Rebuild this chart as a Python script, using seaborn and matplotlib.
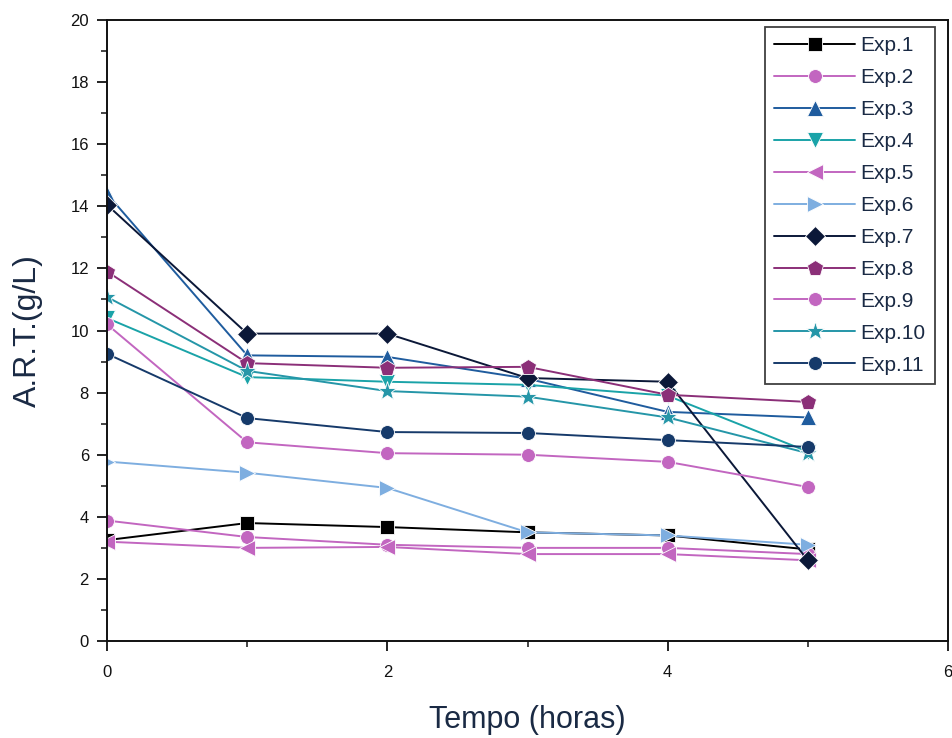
import matplotlib
matplotlib.use("Agg")
import matplotlib.pyplot as plt
from matplotlib.ticker import MultipleLocator
import seaborn as sns
import pandas as pd

# Time points (hours)
tempo = [0, 1, 2, 3, 4, 5]

# Reducing sugars (A.R.T., g/L) per experiment
exp1 = [3.25, 3.80, 3.67, 3.50, 3.40, 2.95]
exp2 = [3.88, 3.35, 3.10, 3.00, 3.00, 2.80]
exp3 = [14.40, 9.20, 9.15, 8.45, 7.38, 7.20]
exp4 = [10.40, 8.50, 8.35, 8.25, 7.90, 6.10]
exp5 = [3.20, 3.00, 3.03, 2.80, 2.80, 2.60]
exp6 = [5.78, 5.42, 4.93, 3.50, 3.40, 3.10]
exp7 = [14.05, 9.90, 9.90, 8.47, 8.35, 2.60]
exp8 = [11.90, 8.95, 8.80, 8.83, 7.93, 7.70]
exp9 = [10.20, 6.40, 6.05, 6.00, 5.77, 4.96]
exp10 = [11.08, 8.70, 8.05, 7.87, 7.20, 6.05]
exp11 = [9.25, 7.18, 6.73, 6.70, 6.47, 6.25]

labels = ["Exp.1", "Exp.2", "Exp.3", "Exp.4", "Exp.5", "Exp.6",
          "Exp.7", "Exp.8", "Exp.9", "Exp.10", "Exp.11"]
series = [exp1, exp2, exp3, exp4, exp5, exp6, exp7, exp8, exp9, exp10, exp11]

colors = ["#000000", "#c266c0", "#1f5c9e", "#1aa3a8", "#c266c0", "#7eaee0",
          "#0b1838", "#8b2f78", "#c266c0", "#2596a8", "#163a6a"]
markers = ["s", "o", "^", "v", "<", ">", "D", "p", "o", "*", "o"]
# per-marker size tweaks so shapes look comparable
marker_sizes = {"s": 10, "o": 10, "^": 11, "v": 11, "<": 11, ">": 11,
                "D": 10, "p": 12, "*": 14}

rows = []
for lab, vals in zip(labels, series):
    for t, v in zip(tempo, vals):
        rows.append({"Tempo": t, "ART": v, "Exp": lab})
df = pd.DataFrame(rows)

sns.set_style("ticks")
plt.rcParams["font.family"] = ["Liberation Sans", "DejaVu Sans"]

fig = plt.figure(figsize=(9.52, 7.38), dpi=100)
ax = fig.add_axes([0.1124, 0.1314, 0.8834, 0.8415])

sns.lineplot(
    data=df, x="Tempo", y="ART", hue="Exp", style="Exp",
    hue_order=labels, style_order=labels,
    palette=dict(zip(labels, colors)),
    markers=dict(zip(labels, markers)),
    dashes=False, markersize=10, linewidth=1.4,
    markeredgewidth=0.6, ax=ax,
)

for ln in ax.lines:
    m = ln.get_marker()
    if m in marker_sizes:
        ln.set_markersize(marker_sizes[m])

ax.set_xlim(0, 6)
ax.set_ylim(0, 20)
ax.xaxis.set_major_locator(MultipleLocator(2))
ax.xaxis.set_minor_locator(MultipleLocator(1))
ax.yaxis.set_major_locator(MultipleLocator(2))
ax.yaxis.set_minor_locator(MultipleLocator(1))
ax.tick_params(which="major", direction="out", length=7, width=1.3,
               labelsize=12, colors="#111111", pad=6)
ax.tick_params(axis="x", which="major", pad=10)
ax.tick_params(which="minor", direction="out", length=4, width=1.2)
for sp in ax.spines.values():
    sp.set_linewidth(1.4)
    sp.set_color("#111111")

ax.set_xlabel("Tempo (horas)", fontsize=22, color="#1a2a44", labelpad=18)
ax.set_ylabel("A.R.T.(g/L)", fontsize=23, color="#1a2a44", labelpad=20)

leg = ax.legend(loc="upper right", bbox_to_anchor=(0.9845, 0.9887),
                borderaxespad=0.0,
                fontsize=15, frameon=True, fancybox=False,
                handlelength=3.9, handletextpad=0.25, labelspacing=0.62,
                borderpad=0.45, markerscale=1.0)
leg.get_frame().set_edgecolor("#111111")
leg.get_frame().set_linewidth(1.3)
for h in leg.legend_handles:
    m = h.get_marker()
    if m in marker_sizes:
        h.set_markersize(marker_sizes[m])
for txt in leg.get_texts():
    txt.set_color("#1a2a44")

fig.savefig("out.png", dpi=100)
